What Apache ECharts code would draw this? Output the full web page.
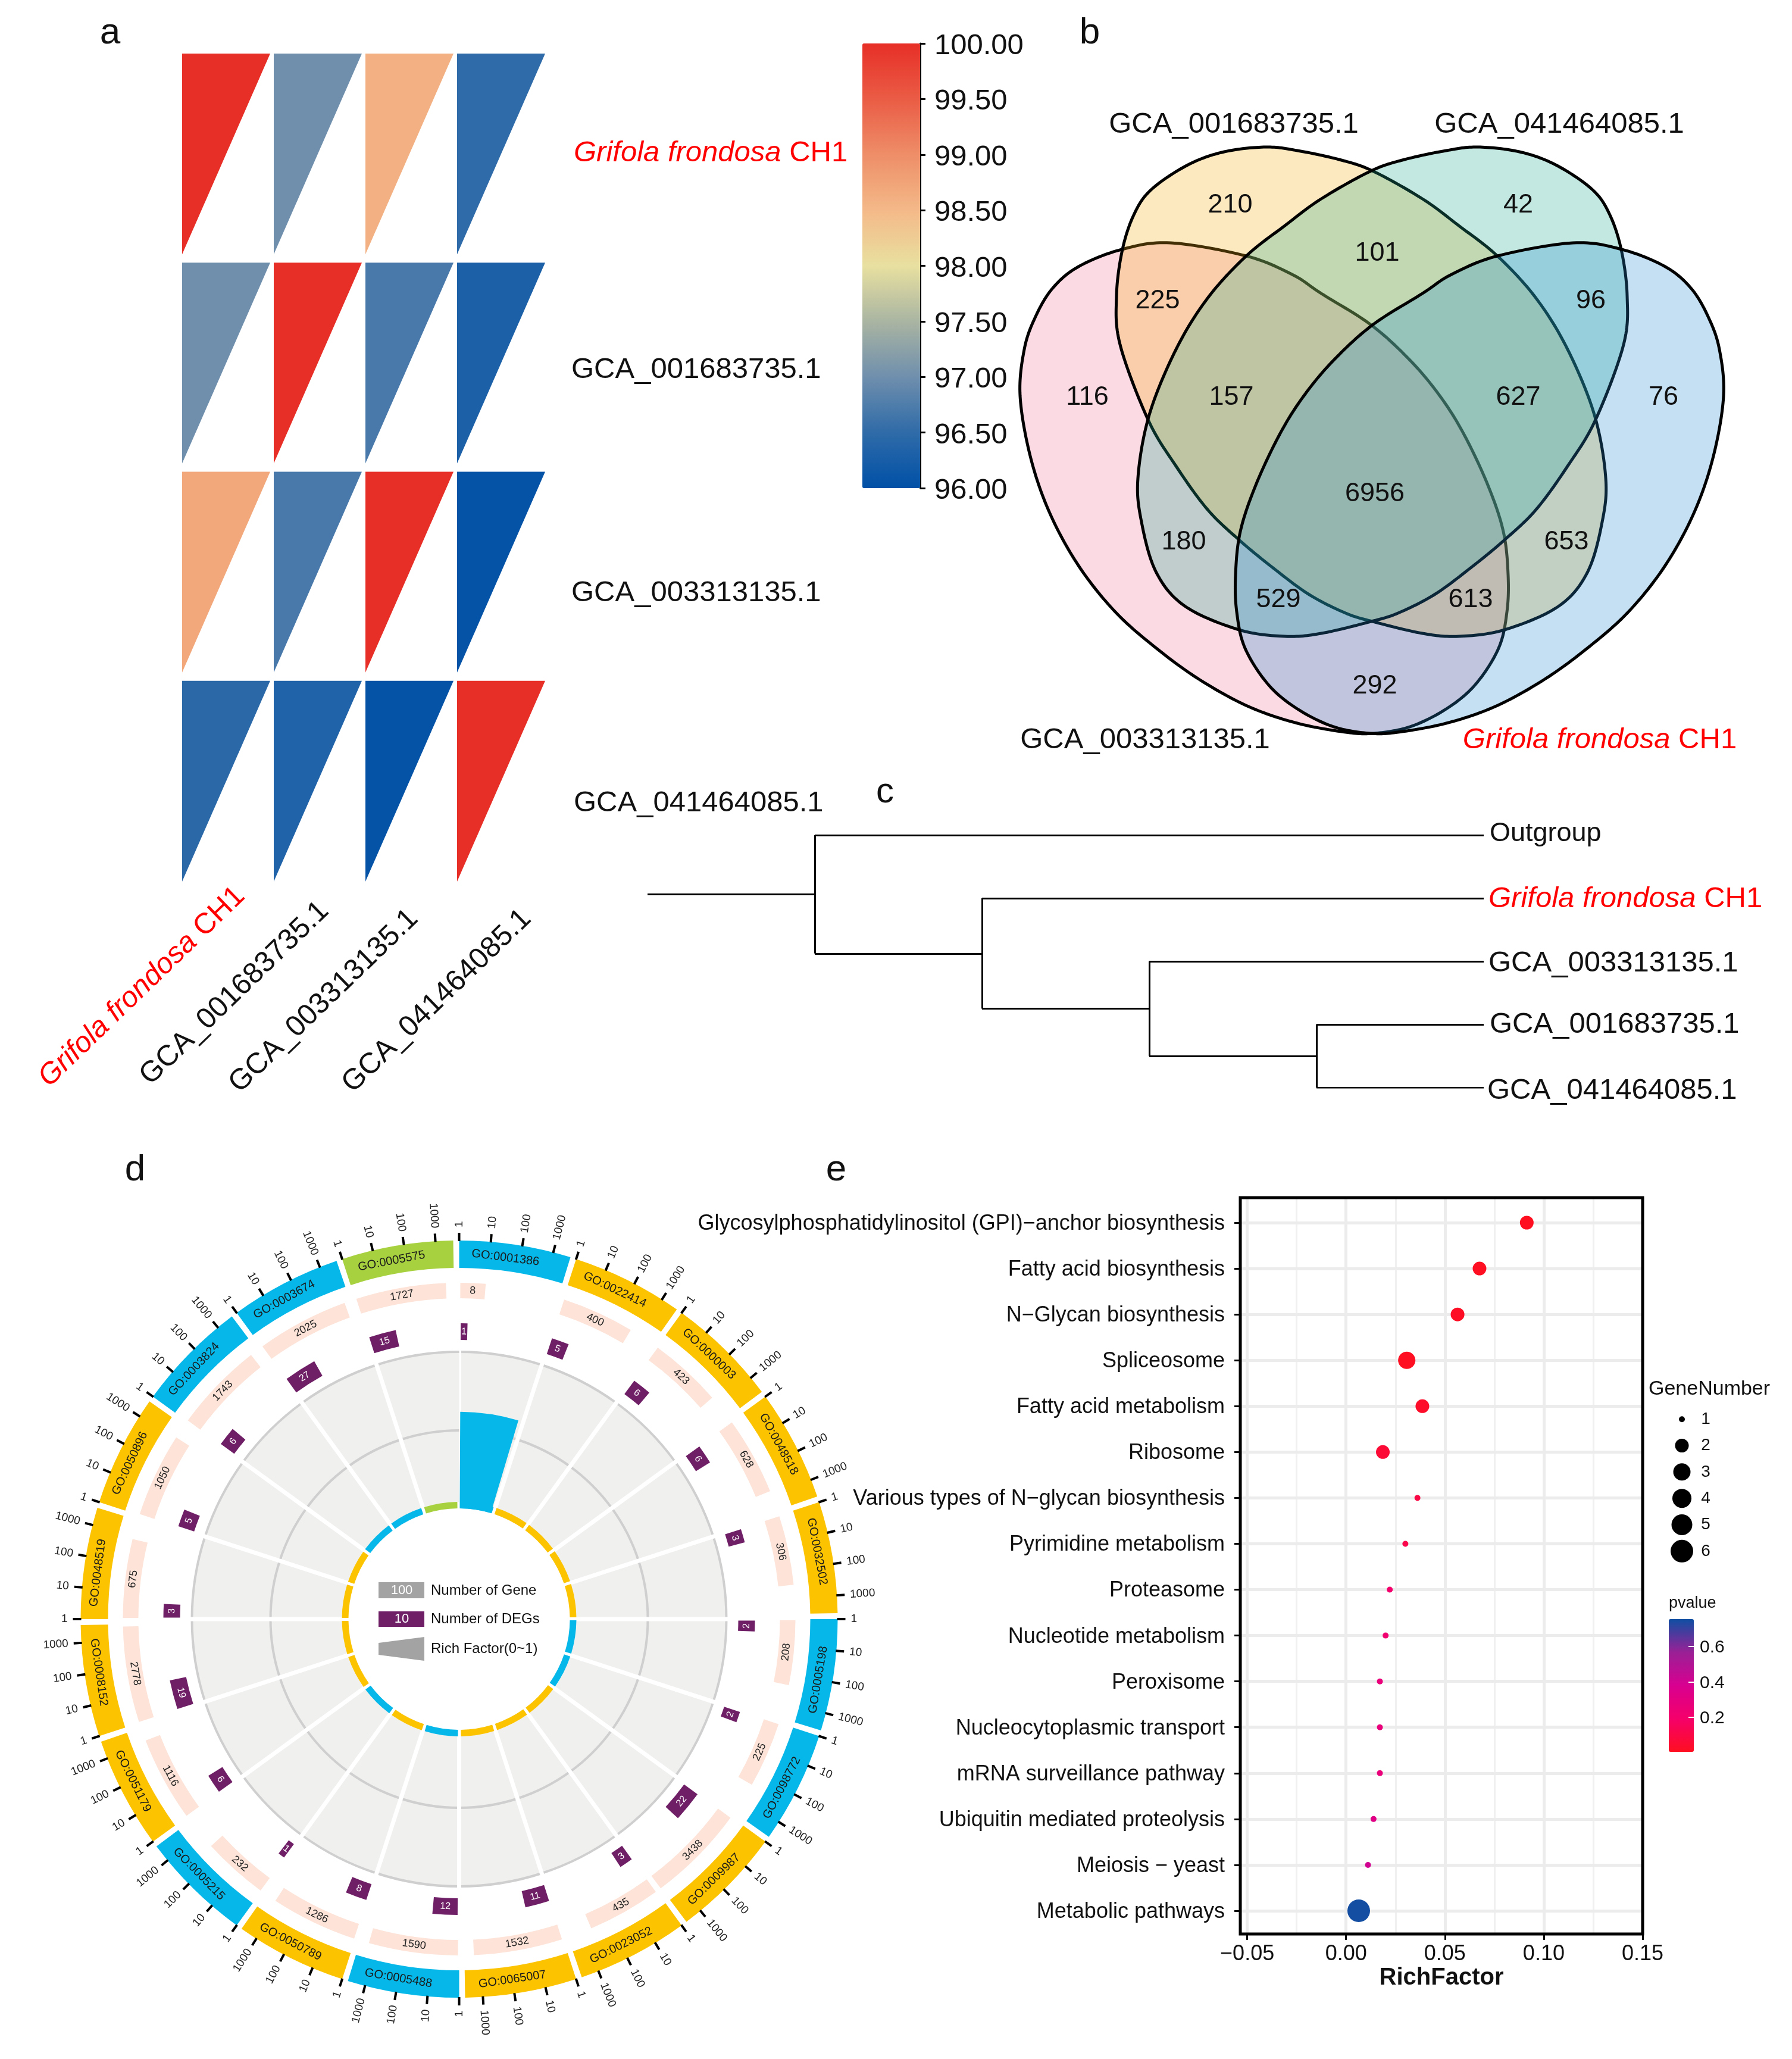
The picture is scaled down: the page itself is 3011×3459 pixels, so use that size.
<!DOCTYPE html>
<html><head><meta charset="utf-8">
<script src="https://cdn.jsdelivr.net/npm/echarts@6/dist/echarts.min.js"></script>
<style>html,body{margin:0;padding:0;background:#fff}#c{width:3011px;height:3459px}</style>
</head><body><div id="c"></div>
<script>
// ---------- DATA ----------
const genomes = ['Grifola frondosa CH1','GCA_001683735.1','GCA_003313135.1','GCA_041464085.1'];
const aniRow1 = [100, 97.0, 98.6, 96.5];
const aniRow2 = [97.0, 100, 96.7, 96.3];
const aniRow3 = [98.7, 96.7, 100, 96.05];
const aniRow4 = [96.45, 96.35, 96.05, 100];

const vennCounts = [210,42,101,225,96,116,157,627,76,6956,180,653,529,613,292];
const vennNames = ['GCA_001683735.1','GCA_041464085.1','GCA_003313135.1','Grifola frondosa CH1'];

const treeTips = ['Outgroup','Grifola frondosa CH1','GCA_003313135.1','GCA_001683735.1','GCA_041464085.1'];
const treeBranches = [
 [[0,0.94],[1,0.94]],[[1,0],[1,1.875]],[[1,0],[5,0]],[[1,1.875],[2,1.875]],
 [[2,1],[2,2.75]],[[2,1],[5,1]],[[2,2.75],[3,2.75]],[[3,2],[3,3.5]],[[3,2],[5,2]],
 [[3,3.5],[4,3.5]],[[4,3],[4,4]],[[4,3],[5,3]],[[4,4],[5,4]]];

const goTerms = ['GO:0001386','GO:0022414','GO:0000003','GO:0048518','GO:0032502','GO:0005198','GO:0098772','GO:0009987','GO:0023052','GO:0065007','GO:0005488','GO:0050789','GO:0005215','GO:0051179','GO:0008152','GO:0048519','GO:0050896','GO:0003824','GO:0003674','GO:0005575'];
const goClass = ['mf','bp','bp','bp','bp','mf','mf','bp','bp','bp','mf','bp','mf','bp','bp','bp','bp','mf','mf','cc'];
const geneCounts = [8,400,423,628,306,208,225,3438,435,1532,1590,1286,232,1116,2778,675,1050,1743,2025,1727];
const degCounts = [1,5,6,6,3,2,2,22,3,11,12,8,1,6,19,3,5,6,27,15];
const richFactors = [0.6,0,0,0,0,0,0,0,0,0,0,0,0,0,0,0,0,0,0,0];
const goTickLabels = ['1','10','100','1000'];

const pathways = ['Glycosylphosphatidylinositol (GPI)\u2212anchor biosynthesis','Fatty acid biosynthesis','N\u2212Glycan biosynthesis','Spliceosome','Fatty acid metabolism','Ribosome','Various types of N\u2212glycan biosynthesis','Pyrimidine metabolism','Proteasome','Nucleotide metabolism','Peroxisome','Nucleocytoplasmic transport','mRNA surveillance pathway','Ubiquitin mediated proteolysis','Meiosis \u2212 yeast','Metabolic pathways'];
const richFactor = [0.0914,0.0675,0.0564,0.0307,0.0386,0.0186,0.0361,0.030,0.0221,0.020,0.0171,0.0171,0.0171,0.0139,0.0111,0.0064];
const geneNumber = [2,2,2,3,2,2,1,1,1,1,1,1,1,1,1,6];
const pValue = [0.006,0.01,0.015,0.01,0.03,0.06,0.10,0.12,0.20,0.22,0.27,0.27,0.27,0.33,0.40,0.75];
const sizeLevels = [1,2,3,4,5,6];
const pTicks = [0.2,0.4,0.6];
const xTicksE = [-0.05,0,0.05,0.10,0.15];
const xMinorE = [-0.025,0.025,0.075,0.125];

// ---------- STYLE / LAYOUT ----------
const FONT = '"Liberation Sans", Arial, sans-serif';
const INK = '#111';
const RED = '#ff0000';
const aniColors = ['#0050a7','#2f6ba8','#6f8fad','#aab5a2','#e8e0a0','#f4b988','#ee8e68','#ea5c45','#e72f27'];
const pColors = ['#ff0f20','#f5006a','#d80090','#9a2096','#0f4fa3'];
const classColor = {mf:'#06b8e9',bp:'#fcc300',cc:'#a8d13f'};
const sizePx = {1:10,2:23,3:29,4:32,5:35,6:38};
const R = {hub0:186,hub1:197,mid:317,bgOut:449,deg0:469,deg1:497,gene0:539,gene1:565,ring0:590,ring1:636,tick:649,tickText:658,goText:612};
const SECTOR = 18, DECADE = 4.8;
function grif(sz){const b={color:RED,fill:RED,fontSize:sz,fontFamily:FONT};return {i:Object.assign({fontStyle:'italic'},b),n:b};}
const GRIF = '{i|Grifola frondosa}{n| CH1}';

// venn outlines and label anchors, in the venn grid's own units
const vennPinkOutline = [[1967,408],[2094,430],[2171,461],[2220,493],[2304,546],[2370,606],[2420,666],[2460,730],[2500,815],[2526,893],[2534,966],[2532,1028],[2518,1089],[2479,1150],[2430,1191],[2369,1221],[2308,1232],[2261,1230],[2180,1215],[2098,1187],[2016,1142],[1943,1089],[1874,1028],[1812,950],[1763,860],[1731,766],[1714,665],[1721,587],[1739,534],[1768,485],[1812,448],[1885,419]];
const vennYellowOutline = [[2127,247],[2180,253],[2250,268],[2306,287],[2390,334],[2451,379],[2516,430],[2581,501],[2634,587],[2679,697],[2698,803],[2692,877],[2667,962],[2618,1019],[2528,1058],[2451,1069],[2390,1064],[2306,1044],[2261,1030],[2200,999],[2139,954],[2082,907],[2029,856],[1976,783],[1929,705],[1882,579],[1876,497],[1886,419],[1906,359],[1935,318],[1996,277],[2057,255]];
const mirror = pts => pts.map(p=>[4610-p[0],p[1]]);
const vennPos = [[2067,342],[2551,342],[2314,423],[1945,503],[2673,503],[1827,665],[2069,665],[2551,665],[2795,665],[2310,827],[1989,908],[2632,908],[2148,1005],[2471,1005],[2310,1150]];
const vennNamePos = [[2073,206],[2620,206],[1924,1240],[2688,1240]];
function spline(pts){
  const out=[],n=pts.length;
  for(let i=0;i<n;i++){
    const a=pts[(i-1+n)%n],b=pts[i],c=pts[(i+1)%n],d=pts[(i+2)%n];
    for(let k=0;k<16;k++){
      const t=k/16,t2=t*t,t3=t2*t;
      out.push([0,1].map(j=>0.5*(2*b[j]+(c[j]-a[j])*t+(2*a[j]-5*b[j]+4*c[j]-d[j])*t2+(3*b[j]-a[j]-3*c[j]+d[j])*t3)));
    }
  }
  return out;
}
function vennSeries(outline,fill){
  const curve=spline(outline);
  return {type:'custom',xAxisIndex:2,yAxisIndex:2,data:[[2300,700]],silent:true,clip:false,z:1,
    renderItem:(p,api)=>({type:'polygon',shape:{points:curve.map(q=>api.coord(q))},style:{fill:fill,stroke:'#000',lineWidth:5}})};
}

// ---------- AXES ----------
const hidX=(o)=>Object.assign({type:'value',show:false},o);
const grids=[
 {left:306,top:90,width:616,height:1405},
 {left:1449,top:73,width:97,height:747},
 {left:1650,top:100,width:1361,height:1200},
 {left:1088,top:1403,width:1405,height:424},
 {left:2084,top:2012,width:676,height:1237},
 {left:2806,top:2362,width:40,height:266},
 {left:2804,top:2720,width:42,height:223}
];
const xAxes=[
 {gridIndex:0,type:'category',data:genomes,show:false},
 hidX({gridIndex:1,min:0,max:1}),
 hidX({gridIndex:2,min:1650,max:3011}),
 hidX({gridIndex:3,min:0,max:5}),
 {gridIndex:4,type:'value',position:'bottom',min:-0.0535,max:0.15,z:3,
  axisLine:{show:false,onZero:false},
  axisTick:{show:true,length:10,lineStyle:{color:'#000',width:3},customValues:xTicksE},
  axisLabel:{customValues:xTicksE,fontSize:36,color:INK,fontFamily:FONT,margin:16,formatter:v=>(v<0?'\u2212':'')+Math.abs(v).toFixed(2)},
  splitLine:{show:true,lineStyle:{color:'#ececec',width:5}},
  name:'RichFactor',nameLocation:'middle',nameGap:54,nameTextStyle:{fontSize:40,fontWeight:'bold',color:INK,fontFamily:FONT}},
 {gridIndex:4,type:'value',position:'bottom',min:-0.0535,max:0.15,
  axisLine:{show:false,onZero:false},axisTick:{show:false,customValues:xMinorE},
  axisLabel:{show:false,customValues:xMinorE},
  splitLine:{show:true,lineStyle:{color:'#f0f0f0',width:3}}},
 hidX({gridIndex:5,min:-1,max:1}),
 hidX({gridIndex:6,min:0,max:1})
];
const yAxes=[
 {gridIndex:0,type:'category',data:genomes,inverse:true,show:false},
 {gridIndex:1,type:'value',position:'right',min:96,max:100,interval:0.5,splitLine:{show:false},
  axisLine:{show:true,onZero:false,lineStyle:{color:'#000',width:3}},
  axisTick:{show:true,length:9,lineStyle:{color:'#000',width:3}},
  axisLabel:{margin:24,formatter:v=>'{a|'+v.toFixed(2)+'}',rich:{a:{fontSize:49,color:INK,fontFamily:FONT,padding:[9,0,0,0]}}}},
 hidX({gridIndex:2,min:100,max:1300,inverse:true}),
 hidX({gridIndex:3,min:0,max:4,inverse:true}),
 {gridIndex:4,type:'value',inverse:true,min:-0.545,max:15.506,z:3,
  axisLine:{show:false,onZero:false},
  axisTick:{show:true,length:10,lineStyle:{color:'#000',width:3},customValues:pathways.map((_,i)=>i)},
  axisLabel:{customValues:pathways.map((_,i)=>i),margin:26,formatter:v=>'{a|'+pathways[v]+'}',rich:{a:{fontSize:36,color:INK,fontFamily:FONT,padding:[4,0,0,0]}}},
  splitLine:{show:true,lineStyle:{color:'#ececec',width:5}}},
 {gridIndex:5,type:'category',data:sizeLevels.map(String),inverse:true,show:false},
 {gridIndex:6,type:'value',position:'right',min:0.005,max:0.755,z:10,splitLine:{show:false},
  axisLine:{show:false,onZero:false},
  axisTick:{show:true,inside:true,length:9,lineStyle:{color:'#fff',width:2},customValues:pTicks},
  axisLabel:{customValues:pTicks,margin:10,formatter:v=>'{a|'+v.toFixed(1)+'}',rich:{a:{fontSize:30,color:INK,fontFamily:FONT,padding:[4,0,0,0]}}}}
];

// ---------- SERIES ----------
const series=[];
// a: triangle matrix
const matrix=[aniRow1,aniRow2,aniRow3,aniRow4];
const aniData=[];
matrix.forEach((row,r)=>row.forEach((v,c)=>aniData.push([c,r,v])));
series.push({type:'custom',xAxisIndex:0,yAxisIndex:0,data:aniData,encode:{x:0,y:1},silent:true,
  renderItem:(p,api)=>{
    const c=api.coord([api.value(0),api.value(1)]),s=api.size([1,1]);
    const x0=c[0]-s[0]/2,y0=c[1]-s[1]/2,w=s[0]*0.961,h=s[1]*0.96;
    return {type:'polygon',shape:{points:[[x0,y0],[x0+w,y0],[x0,y0+h]]},style:{fill:api.visual('color')}};
  }});
// b: venn
series.push(vennSeries(vennPinkOutline,'rgba(240,118,152,0.27)'));
series.push(vennSeries(vennYellowOutline,'rgba(248,174,19,0.27)'));
series.push(vennSeries(mirror(vennYellowOutline),'rgba(33,170,144,0.27)'));
series.push(vennSeries(mirror(vennPinkOutline),'rgba(37,141,207,0.27)'));
series.push({type:'scatter',xAxisIndex:2,yAxisIndex:2,symbolSize:0,silent:true,z:5,itemStyle:{opacity:1},
  data:vennCounts.map((v,i)=>({value:[vennPos[i][0],vennPos[i][1],v]})),
  label:{show:true,position:'inside',offset:[0,3],formatter:p=>String(p.value[2]),fontSize:45,color:INK,fontFamily:FONT,opacity:1}});
series.push({type:'scatter',xAxisIndex:2,yAxisIndex:2,symbolSize:0,silent:true,z:5,itemStyle:{opacity:1},
  data:vennNames.map((n,i)=>({value:vennNamePos[i],name:n})),
  label:{show:true,position:'inside',offset:[0,3],fontSize:49,color:INK,fontFamily:FONT,opacity:1,rich:grif(49),
    formatter:p=>p.name.startsWith('Grifola')?GRIF:p.name}});
// c: tree
const tipOffset=[[2,-2],[0,1],[0,3],[2,0],[-2,5]];
series.push({type:'lines',coordinateSystem:'cartesian2d',xAxisIndex:3,yAxisIndex:3,silent:true,
  data:treeBranches.map(b=>({coords:b})),lineStyle:{color:'#000',width:3,opacity:1}});
series.push({type:'scatter',xAxisIndex:3,yAxisIndex:3,symbolSize:0,silent:true,itemStyle:{opacity:1},
  data:treeTips.map((n,i)=>({value:[5,i],name:n,label:{offset:tipOffset[i],fontSize:i===0?45:49}})),
  label:{show:true,position:'right',distance:8,fontSize:49,color:INK,fontFamily:FONT,opacity:1,rich:grif(49),
    formatter:p=>p.name.startsWith('Grifola')?GRIF:p.name}});
// d: GO circle
const rad=d=>(d-90)*Math.PI/180;
const goRows=goTerms.map((t,i)=>[R.ring1,i*SECTOR]);
function helpers(api){
  const c=api.coord([0,0]);
  const pt=(r,d)=>{const q=api.coord([r,d]);return [q[0],q[1]];};
  const sec=(r0,r1,a0,a1,fill)=>({type:'sector',shape:{cx:c[0],cy:c[1],r:r1,r0:r0,startAngle:rad(a0),endAngle:rad(a1),clockwise:true},style:{fill:fill}});
  const txt=(r,d,s,size,fill)=>{
    const q=pt(r,d),nd=((d%360)+360)%360,top=(nd<90||nd>=270);
    return {type:'text',x:q[0],y:q[1],rotation:(top?-nd:180-nd)*Math.PI/180,
      style:{text:s,fontSize:size,fill:fill,fontFamily:FONT,align:'center',verticalAlign:'middle'}};
  };
  return {c,pt,sec,txt};
}
const polarBase={type:'custom',coordinateSystem:'polar',polarIndex:0,silent:true,data:goRows,encode:{radius:0,angle:1}};
series.push(Object.assign({},polarBase,{z:2,renderItem:(p,api)=>{
  const i=p.dataIndex,a=i*SECTOR,h=helpers(api),c=h.c,ch=[];
  ch.push(h.sec(R.hub1,R.bgOut,a,a+SECTOR,'#f0f0ef'));
  [R.mid,R.bgOut].forEach(r=>ch.push({type:'arc',shape:{cx:c[0],cy:c[1],r:r,startAngle:rad(a),endAngle:rad(a+SECTOR)},style:{fill:null,stroke:'#cfcfcf',lineWidth:4}}));
  const q0=h.pt(R.hub1-2,a),q1=h.pt(R.bgOut+6,a);
  ch.push({type:'line',shape:{x1:q0[0],y1:q0[1],x2:q1[0],y2:q1[1]},style:{stroke:'#fff',lineWidth:7}});
  return {type:'group',children:ch};
}}));
series.push(Object.assign({},polarBase,{z:3,renderItem:(p,api)=>{
  const i=p.dataIndex,a=i*SECTOR,h=helpers(api),ch=[],col=classColor[goClass[i]];
  // hub ring and rich-factor wedge
  ch.push(h.sec(R.hub0,R.hub1,a+0.6,a+SECTOR-0.9,col));
  if(richFactors[i]>0) ch.push(h.sec(R.hub0,R.hub1+richFactors[i]*(R.bgOut-R.hub1),a+0.3,a+16.6,col));
  // DEG tiles
  const dw=Math.log10(degCounts[i]+1)*4.4;
  ch.push(h.sec(R.deg0,R.deg1,a+0.3,a+0.3+dw,'#6f1f66'));
  ch.push(h.txt((R.deg0+R.deg1)/2,a+0.3+dw/2,String(degCounts[i]),16,'#fff'));
  // gene-count bars
  const gw=Math.log10(geneCounts[i])*DECADE;
  ch.push(h.sec(R.gene0,R.gene1,a+0.2,a+0.2+gw,'#fde3d8'));
  ch.push(h.txt((R.gene0+R.gene1)/2,a+0.2+gw/2,String(geneCounts[i]),18,'#222'));
  // outer ring
  ch.push(h.sec(R.ring0,R.ring1,a,a+SECTOR-0.9,col));
  const nd=a+SECTOR/2,top=(nd<90||nd>=270);
  ch.push(h.txt(R.goText,a+(top?7.3:9.6),goTerms[i],20,'#1a1a1a'));
  // ticks with log labels
  goTickLabels.forEach((s,k)=>{
    const d=a+k*DECADE,q0=h.pt(R.ring1-1,d),q1=h.pt(R.tick,d),q2=h.pt(R.tickText,d);
    ch.push({type:'line',shape:{x1:q0[0],y1:q0[1],x2:q1[0],y2:q1[1]},style:{stroke:'#000',lineWidth:4}});
    const right=d<180;
    ch.push({type:'text',x:q2[0],y:q2[1],rotation:(right?90-d:270-d)*Math.PI/180,
      style:{text:s,fontSize:19,fill:'#222',fontFamily:FONT,align:right?'left':'right',verticalAlign:'middle'}});
  });
  return {type:'group',children:ch};
}}));
// e: bubbles
const bubbleIndex=series.length;
series.push({type:'scatter',xAxisIndex:4,yAxisIndex:4,z:5,silent:true,
  data:pathways.map((_,i)=>[richFactor[i],i,pValue[i],geneNumber[i]]),
  symbolSize:v=>sizePx[v[3]],itemStyle:{opacity:1}});
series.push({type:'scatter',xAxisIndex:6,yAxisIndex:5,silent:true,
  data:sizeLevels.map((n,i)=>[0,i,n]),symbolSize:v=>sizePx[v[2]],itemStyle:{color:'#000',opacity:1},
  label:{show:true,position:'inside',offset:[40,0],formatter:p=>String(p.value[2]),fontSize:28,color:INK,fontFamily:FONT,opacity:1}});

// ---------- TEXT ----------
function T(x,y,text,size,extra){
  return {type:'text',x:x,y:y+3,silent:true,z:20,rotation:(extra&&extra.rotation)||0,
   style:Object.assign({text:text,fontSize:size,fill:INK,fontFamily:FONT,align:'left',verticalAlign:'middle'},extra&&extra.style)};
}
const deg=d=>d*Math.PI/180;
const gfx=[
 T(185,53,'a',62,{style:{align:'center'}}),T(1831,53,'b',62,{style:{align:'center'}}),T(1487,1328,'c',60,{style:{align:'center'}}),
 T(227,1963,'d',62,{style:{align:'center'}}),T(1405,1963,'e',62,{style:{align:'center'}}),
 T(964,254,GRIF,49,{style:{rich:grif(49)}}),
 T(960,618,genomes[1],49),T(960,993,genomes[2],49),T(964,1346,genomes[3],49),
 T(404,1495,GRIF,49,{rotation:deg(44),style:{align:'right',rich:grif(49)}}),
 T(545,1520,genomes[1],49,{rotation:deg(44),style:{align:'right'}}),
 T(695,1533,genomes[2],49,{rotation:deg(44),style:{align:'right'}}),
 T(885,1533,genomes[3],49,{rotation:deg(44),style:{align:'right'}}),
 // frame of e
 {type:'rect',silent:true,z:20,shape:{x:2084,y:2012,width:676,height:1237},style:{fill:'transparent',stroke:'#000',lineWidth:5}},
 // centre key of d
 {type:'rect',silent:true,z:20,shape:{x:636,y:2658,width:77,height:27},style:{fill:'#a3a3a3'}},
 {type:'rect',silent:true,z:20,shape:{x:636,y:2707,width:77,height:26},style:{fill:'#6f1f66'}},
 {type:'polygon',silent:true,z:20,shape:{points:[[636,2760],[713,2750],[713,2790],[636,2780]]},style:{fill:'#a3a3a3'}},
 T(675,2669,'100',22,{style:{align:'center',fill:'#fff'}}),T(675,2717,'10',22,{style:{align:'center',fill:'#fff'}}),
 T(724,2669,'Number of Gene',24),T(724,2717,'Number of DEGs',24),T(724,2767,'Rich Factor(0~1)',24),
 // e legends
 T(2770,2331,'GeneNumber',34),T(2804,2691,'pvalue',27)
];

const chart=echarts.init(document.getElementById('c'),null,{width:3011,height:3459});
chart.setOption({
  animation:false,backgroundColor:'#fff',textStyle:{fontFamily:FONT},tooltip:{show:false},
  grid:grids,xAxis:xAxes,yAxis:yAxes,
  polar:{center:[771.5,2720],radius:640},
  radiusAxis:{polarIndex:0,show:false,type:'value',min:0,max:640},
  angleAxis:{polarIndex:0,show:false,type:'value',min:0,max:360,startAngle:90,clockwise:true},
  visualMap:[
   {type:'continuous',seriesIndex:0,dimension:2,min:96,max:100,calculable:false,hoverLink:false,left:1449,top:73,padding:0,itemWidth:97,itemHeight:747,text:null,inRange:{color:aniColors}},
   {type:'continuous',seriesIndex:bubbleIndex,dimension:2,min:0.005,max:0.755,calculable:false,hoverLink:false,left:2804,top:2720,padding:0,itemWidth:42,itemHeight:223,text:null,inRange:{color:pColors}}
  ],
  series:series,
  graphic:{elements:gfx}
});
</script></body></html>
